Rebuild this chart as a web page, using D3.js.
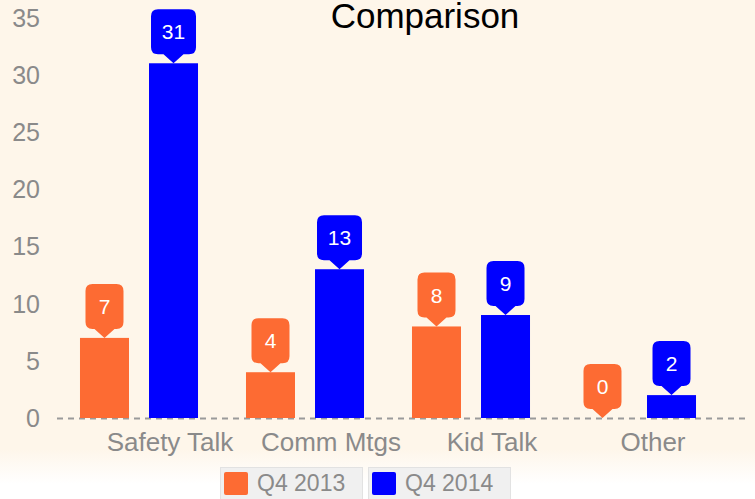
<!DOCTYPE html>
<html>
<head>
<meta charset="utf-8">
<script src="https://cdn.jsdelivr.net/npm/d3@7"></script>
<style>
  html, body { margin: 0; padding: 0; background: #ffffff; }
  svg { display: block; font-family: "Liberation Sans", Arial, sans-serif; }
</style>
</head>
<body>
<svg id="chart" width="755" height="499"></svg>
<script>
// Chart data
const categories = ["Safety Talk", "Comm Mtgs", "Kid Talk", "Other"];
const seriesNames = ["Q4 2013", "Q4 2014"];
const q4_2013 = [7, 4, 8, 0];
const q4_2014 = [31, 13, 9, 2];
const seriesColors = ["#fd6b33", "#0000ff"];
const yTicks = [0, 5, 10, 15, 20, 25, 30, 35];
const title = "Comparison";

const seriesValues = [q4_2013, q4_2014];
const rows = categories.map((c, i) => ({
  category: c,
  values: seriesNames.map((s, j) => ({ series: s, idx: j, value: seriesValues[j][i] }))
}));

const svg = d3.select("#chart");
const W = 755, H = 499;

// Background: warm cream that fades to white at the very bottom
const defs = svg.append("defs");
const bg = defs.append("linearGradient").attr("id", "bgGrad")
  .attr("x1", 0).attr("y1", 0).attr("x2", 0).attr("y2", 1);
bg.append("stop").attr("offset", "0%").attr("stop-color", "#fef6ea");
bg.append("stop").attr("offset", "90%").attr("stop-color", "#fef6ea");
bg.append("stop").attr("offset", "97%").attr("stop-color", "#ffffff");
bg.append("stop").attr("offset", "100%").attr("stop-color", "#ffffff");
svg.append("rect").attr("width", W).attr("height", H).attr("fill", "url(#bgGrad)");

// Scales
const y = d3.scaleLinear().domain([0, 35]).range([418, 17.5]);
const x0 = d3.scaleBand().domain(categories).range([56, 720])
  .paddingInner(0.289).paddingOuter(0.1445);
const x1 = d3.scaleBand().domain(seriesNames).range([0, x0.bandwidth()])
  .paddingInner(0.29).paddingOuter(0);
const xLabel = d3.scalePoint().domain(categories).range([170, 653]);

// Y axis labels
svg.append("g").selectAll("text").data(yTicks).join("text")
  .attr("x", 40)
  .attr("y", d => y(d))
  .attr("dy", "0.36em")
  .attr("text-anchor", "end")
  .attr("font-size", 25)
  .attr("fill", "#8a8a8a")
  .text(d => d);

// Dashed baseline
svg.append("line")
  .attr("x1", 57).attr("x2", 748)
  .attr("y1", y(0) + 0.5).attr("y2", y(0) + 0.5)
  .attr("stroke", "#9a9a9a")
  .attr("stroke-width", 2)
  .attr("stroke-dasharray", "6,5");

// Bars
const groups = svg.append("g").selectAll("g").data(rows).join("g")
  .attr("transform", d => `translate(${x0(d.category)},0)`);

groups.selectAll("rect").data(d => d.values).join("rect")
  .attr("x", d => x1(d.series))
  .attr("width", x1.bandwidth())
  .attr("y", d => y(d.value))
  .attr("height", d => y(0) - y(d.value))
  .attr("fill", d => seriesColors[d.idx]);

// Value callouts: rounded box with a pointer down to the bar top
function calloutPath(cx, tipY, w, h, r, ph, pw) {
  const L = cx - w / 2, R = cx + w / 2, B = tipY - ph, T = B - h;
  return `M${L + r},${T} H${R - r} Q${R},${T} ${R},${T + r} V${B - r} Q${R},${B} ${R - r},${B}` +
    ` H${cx + pw} L${cx},${tipY} L${cx - pw},${B} H${L + r} Q${L},${B} ${L},${B - r}` +
    ` V${T + r} Q${L},${T} ${L + r},${T} Z`;
}

const labels = groups.selectAll("g.callout").data(d => d.values).join("g")
  .attr("class", "callout");

labels.append("path")
  .attr("d", d => {
    const cx = x1(d.series) + x1.bandwidth() / 2;
    const w = String(d.value).length > 1 ? 45 : 38;
    return calloutPath(cx, y(d.value), w, 45, 7, 9, 10);
  })
  .attr("fill", d => seriesColors[d.idx]);

labels.append("text")
  .attr("x", d => x1(d.series) + x1.bandwidth() / 2)
  .attr("y", d => y(d.value) - 31.5)
  .attr("dy", "0.36em")
  .attr("text-anchor", "middle")
  .attr("font-size", 21)
  .attr("fill", "#ffffff")
  .text(d => d.value);

// Category labels
svg.append("g").selectAll("text").data(categories).join("text")
  .attr("x", d => xLabel(d))
  .attr("y", 451)
  .attr("text-anchor", "middle")
  .attr("font-size", 26)
  .attr("fill", "#8a8a8a")
  .text(d => d);

// Title
svg.append("text")
  .attr("x", 425).attr("y", 28)
  .attr("text-anchor", "middle")
  .attr("font-size", 35)
  .attr("fill", "#000000")
  .text(title);

// Legend
const legend = svg.append("g").selectAll("g").data(seriesNames).join("g")
  .attr("transform", (d, i) => `translate(${220 + i * 148},467)`);
legend.append("rect")
  .attr("x", 0.5).attr("y", 0.5)
  .attr("width", 142).attr("height", 40)
  .attr("fill", "#f0f0f0")
  .attr("stroke", "#e2e2e2");
legend.append("rect")
  .attr("x", 4).attr("y", 5)
  .attr("width", 24).attr("height", 23)
  .attr("rx", 2)
  .attr("fill", (d, i) => seriesColors[i]);
legend.append("text")
  .attr("x", 37).attr("y", 24)
  .attr("font-size", 23)
  .attr("fill", "#8a8a8a")
  .text(d => d);
</script>
</body>
</html>
